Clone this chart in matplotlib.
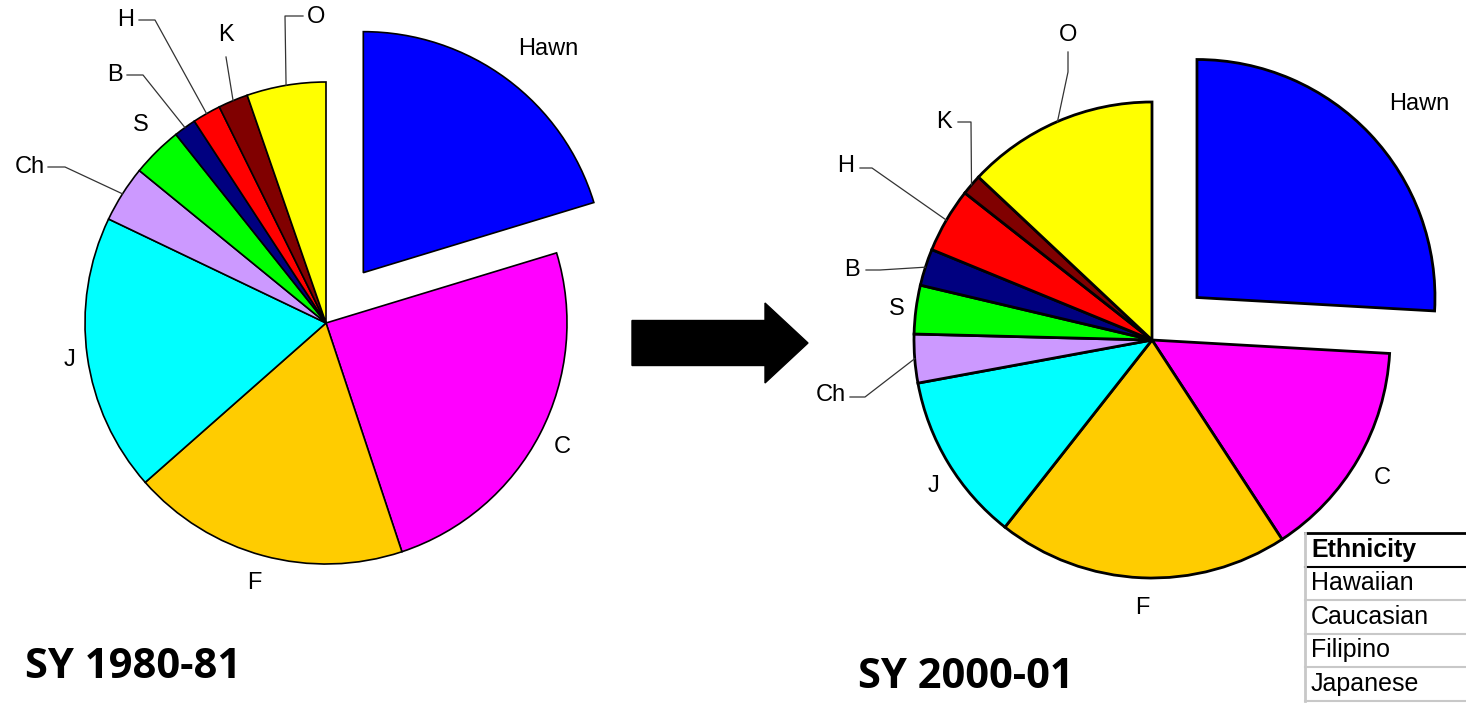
import numpy as np
import matplotlib.pyplot as plt
import matplotlib.patches as mpatches

W, H = 1466, 704

codes = ['Hawn', 'C', 'F', 'J', 'Ch', 'S', 'B', 'H', 'K', 'O']
colors = ['#0000FF', '#FF00FF', '#FFCC00', '#00FFFF', '#CC99FF',
          '#00FF00', '#000080', '#FF0000', '#800000', '#FFFF00']
share_1980 = [20.3, 24.6, 18.6, 18.6, 3.8, 3.4, 1.5, 1.9, 2.0, 5.3]
share_2000 = [25.9, 14.9, 19.8, 11.5, 3.3, 3.3, 2.5, 4.4, 1.4, 13.0]
years = ['SY 1980-81', 'SY 2000-01']
table_rows = ['Hawaiian', 'Caucasian', 'Filipino', 'Japanese']

fig = plt.figure(figsize=(W / 100, H / 100), dpi=100)
ax = fig.add_axes([0, 0, 1, 1])

def Y(y):
    return H - y

# label positions (pixel coords) and leader lines (start, elbow) for small slices
pies = [
    dict(vals=share_1980, center=(326, 323), r=241, lw=1.2,
         labels={'Hawn': (548, 49), 'C': (562, 447), 'F': (254, 583), 'J': (70, 360),
                 'Ch': (30, 167), 'S': (141, 125), 'B': (115, 75), 'H': (126, 20),
                 'K': (226, 35), 'O': (316, 17)},
         leaders={'Ch': [(48, 167), (65, 167)], 'B': [(127, 75), (143, 75)],
                  'H': [(139, 20), (155, 20)], 'K': [(226, 57), (226, 57)],
                  'O': [(303, 16), (285, 16)]},
         title=(25, 668)),
    dict(vals=share_2000, center=(1152, 340), r=238, lw=2.0,
         labels={'Hawn': (1419, 104), 'C': (1382, 478), 'F': (1142, 608), 'J': (934, 486),
                 'Ch': (831, 395), 'S': (897, 309), 'B': (852, 270), 'H': (846, 166),
                 'K': (944, 122), 'O': (1068, 35)},
         leaders={'Ch': [(850, 397), (865, 397)], 'B': [(866, 270), (880, 270)],
                  'H': [(860, 168), (872, 168)], 'K': [(958, 122), (971, 122)],
                  'O': [(1068, 52), (1068, 72)]},
         title=(858, 678)),
]

for p, yr in zip(pies, years):
    cx, cy = p['center']
    # explode is in data units here (radius is in pixels)
    explode = [0.26 * p['r']] + [0] * (len(codes) - 1)
    wedges, _ = ax.pie(p['vals'], colors=colors, startangle=90, counterclock=False,
                       explode=explode, center=(cx, Y(cy)), radius=p['r'],
                       wedgeprops=dict(edgecolor='black', linewidth=p['lw']))
    for code, w in zip(codes, wedges):
        lx, ly = p['labels'][code]
        ax.text(lx, Y(ly), code, ha='center', va='center', fontsize=17,
                family='Liberation Sans')
        if code in p['leaders']:
            mid = np.deg2rad((w.theta1 + w.theta2) / 2)
            ex = cx + p['r'] * np.cos(mid)
            ey = Y(cy) + p['r'] * np.sin(mid)
            (sx, sy), (bx, by) = p['leaders'][code]
            ax.plot([sx, bx, ex], [Y(sy), Y(by), ey], color='#333333', lw=0.9)
    tx, ty = p['title']
    ax.text(tx, Y(ty), yr, ha='left', va='center', fontsize=30, fontweight='bold',
            family='Open Sans')

# arrow between the pies
ax.add_patch(mpatches.FancyArrow(632, Y(343), 176, 0, width=45, head_width=80,
                                 head_length=43, length_includes_head=True,
                                 color='black'))

# partial table bottom right
x0, x1 = 1305, 1466
top, rh = 533, 33.5
ax.text(1311, Y(top + rh / 2), 'Ethnicity', ha='left', va='center', fontsize=18,
        fontweight='bold', family='Liberation Sans')
for i, name in enumerate(table_rows):
    ax.text(1311, Y(top + rh * (i + 1.5)), name, ha='left', va='center', fontsize=18,
            family='Liberation Sans')
    ax.plot([x0, x1], [Y(top + rh * (i + 2))] * 2, color='#C8C8C8', lw=1.5)
ax.plot([x0, x1], [Y(top)] * 2, color='black', lw=2)
ax.plot([x0, x1], [Y(top + rh)] * 2, color='black', lw=1.5)
ax.plot([x0, x0], [Y(top), Y(top + rh * 5)], color='#C8C8C8', lw=2)

ax.set_xlim(0, W)
ax.set_ylim(0, H)
ax.set_aspect('equal')
ax.axis('off')

fig.savefig('out.png', dpi=100)
